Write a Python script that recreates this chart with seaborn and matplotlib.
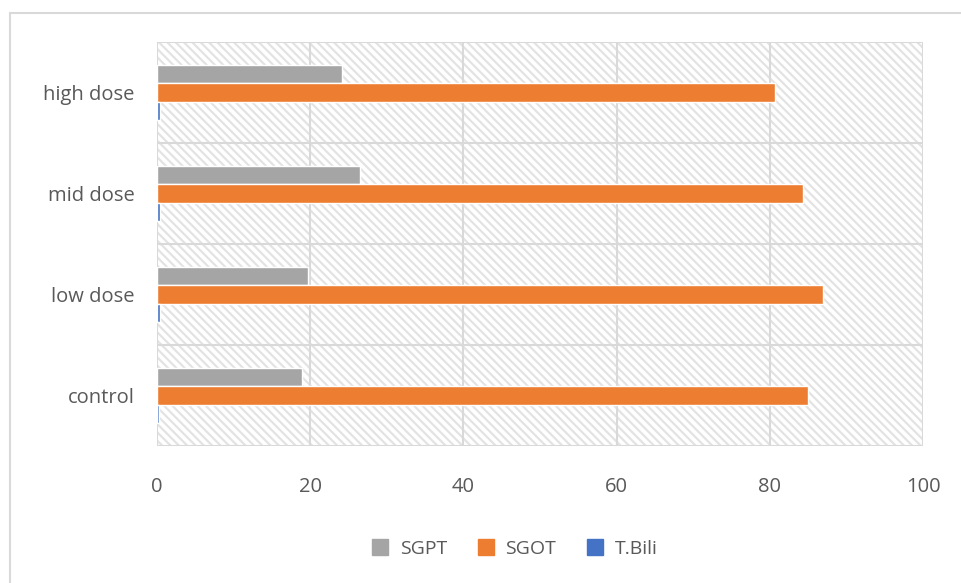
import pandas as pd
import matplotlib.pyplot as plt
import seaborn as sns
from matplotlib.patches import Rectangle
from matplotlib.lines import Line2D

groups = ["high dose", "mid dose", "low dose", "control"]
series = ["SGPT", "SGOT", "T.Bili"]
sgpt = [24.2, 26.5, 19.7, 18.9]
sgot = [80.7, 84.3, 86.9, 85.0]
tbili = [0.35, 0.35, 0.35, 0.25]
colors = ["#a5a5a5", "#ed7d31", "#4472c4"]

rows = []
for i, g in enumerate(groups):
    rows.append((g, "SGPT", sgpt[i]))
    rows.append((g, "SGOT", sgot[i]))
    rows.append((g, "T.Bili", tbili[i]))
df = pd.DataFrame(rows, columns=["group", "test", "value"])

sns.set_style("white")
plt.rcParams['font.family'] = ['Open Sans', 'DejaVu Sans']
plt.rcParams['hatch.color'] = '#e3e3e3'
plt.rcParams['hatch.linewidth'] = 1.6

fig = plt.figure(figsize=(9.61, 5.83), dpi=100)
ax = fig.add_axes([157/961, 1 - 446/583, (923 - 157)/961, (446 - 42)/583])

# hatched plot area
ax.add_patch(Rectangle((0, 0), 1, 1, transform=ax.transAxes, facecolor="white",
                       edgecolor="#e3e3e3", hatch="\\\\\\\\", lw=0, zorder=0))

sns.barplot(data=df, y="group", x="value", hue="test", order=groups,
            hue_order=series, palette=colors, orient="h", width=0.535,
            gap=0, saturation=1, ax=ax, legend=False, zorder=3)

ax.set_xlim(0, 100)
ax.set_ylim(3.5, -0.5)
ax.set_xticks([0, 20, 40, 60, 80, 100])
ax.set_yticks([-0.5, 0.5, 1.5, 2.5, 3.5], minor=False)
ax.set_yticks([0, 1, 2, 3], minor=True)
ax.set_yticklabels([], minor=False)
ax.set_yticklabels(groups, minor=True)
ax.tick_params(axis="y", which="major", length=7, color="#d9d9d9", width=1.5, direction="out")
ax.tick_params(axis="y", which="minor", length=0, labelsize=14.5, labelcolor="#595959", pad=16)
ax.tick_params(axis="x", length=0, labelsize=14.5, labelcolor="#595959", pad=22)
ax.grid(True, which="major", color="#d9d9d9", lw=1.5, zorder=1)
ax.set_axisbelow(True)
for s in ax.spines.values():
    s.set_visible(False)
ax.set_xlabel("")
ax.set_ylabel("")

handles = [Line2D([], [], marker="s", ls="", markersize=11, color=c) for c in colors]
fig.legend(handles, series, loc="center", bbox_to_anchor=(0.53, 1 - 549/583),
           ncol=3, frameon=False, fontsize=14, labelcolor="#595959",
           handletextpad=0.0, columnspacing=1.0)

# chart border (left and top only, as in the cropped reference)
fig.add_artist(Line2D([10/961, 10/961], [0, 1 - 13/583], transform=fig.transFigure,
                      color="#d9d9d9", lw=1.5))
fig.add_artist(Line2D([10/961, 1], [1 - 13/583, 1 - 13/583], transform=fig.transFigure,
                      color="#d9d9d9", lw=1.5))

fig.savefig("out.png", dpi=100)
